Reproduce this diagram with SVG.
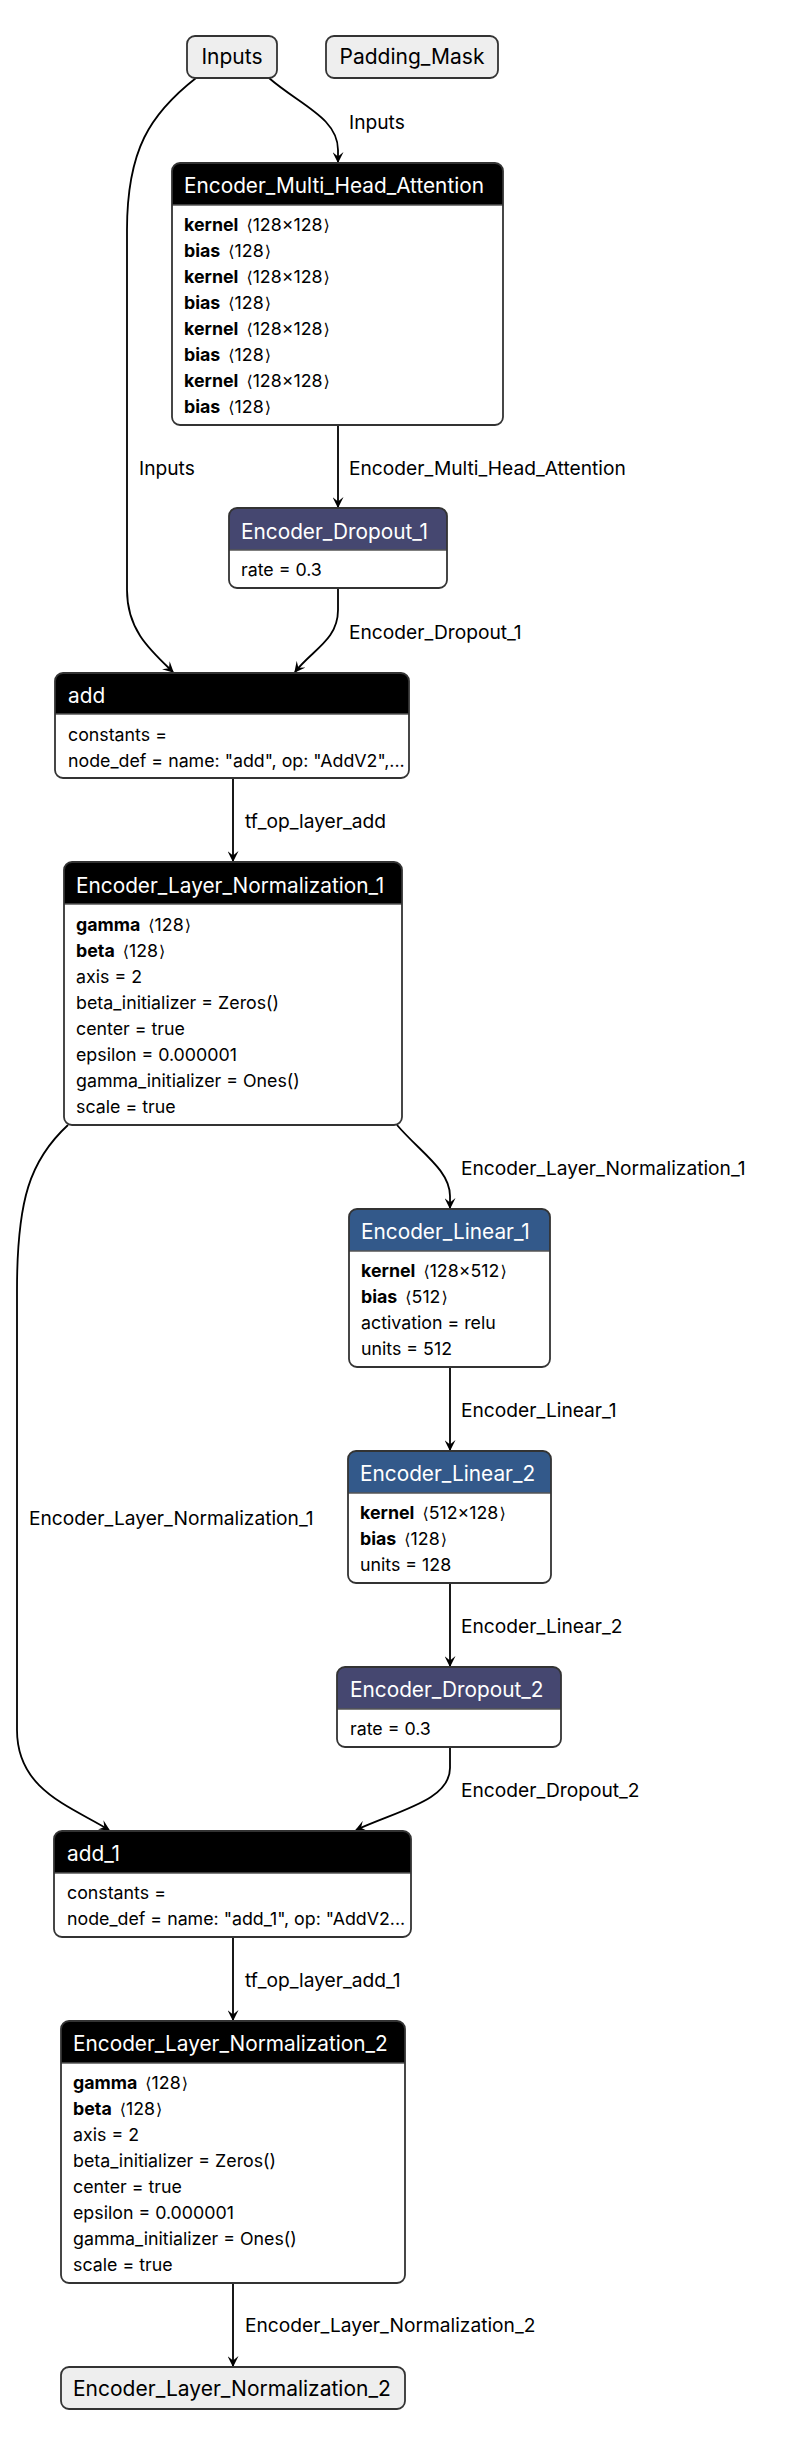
<svg xmlns="http://www.w3.org/2000/svg" width="800" height="2446" viewBox="0 0 800 2446">
<style>
text{font-family:Inter,"Liberation Sans","DejaVu Sans",sans-serif}
.body{fill:#fff;stroke:none}
.outline{fill:none;stroke:#333;stroke-width:1.8}
.sep{stroke:#555;stroke-width:1.5}
.hdr-black{fill:#000}
.hdr-drop{fill:#454770}
.hdr-layer{fill:#33598a}
.title{font-size:20.8px;fill:#fff}
.attr{font-size:17.8px;fill:#000}
.b{font-weight:bold}
.br{font-family:"DejaVu Sans",sans-serif;font-size:16px}
.io{fill:#eee;stroke:#333;stroke-width:1.8}
.iot{font-size:21px;fill:#000}
.edge{fill:none;stroke:#000;stroke-width:1.8}
.lbl{font-size:19.2px;fill:#000}
</style>
<defs>
<marker id="arrow" viewBox="0 0 10 10" refX="9" refY="5" markerWidth="11" markerHeight="11" markerUnits="userSpaceOnUse" orient="auto">
<path d="M0,0 L10,5 L0,10 L4,5 z" fill="#000"/>
</marker>
</defs>
<rect width="800" height="2446" fill="#fff"/>

<g id="connectors">
<path class="edge" d="M269,78 C300,105 338,118 338,150 L338,162" marker-end="url(#arrow)"/>
<path class="edge" d="M196,78 C150,114 127,150 127,230 L127,590 C127,630 150,650 173,672" marker-end="url(#arrow)"/>
<path class="edge" d="M338,425 L338,507" marker-end="url(#arrow)"/>
<path class="edge" d="M338,588 L338,610 C338,640 312,650 295,672" marker-end="url(#arrow)"/>
<path class="edge" d="M233,778 L233,861" marker-end="url(#arrow)"/>
<path class="edge" d="M397,1125 C420,1152 450,1170 450,1196 L450,1208" marker-end="url(#arrow)"/>
<path class="edge" d="M68,1125 C30,1160 17,1200 17,1290 L17,1730 C17,1790 70,1806 109,1830" marker-end="url(#arrow)"/>
<path class="edge" d="M450,1367 L450,1450" marker-end="url(#arrow)"/>
<path class="edge" d="M450,1583 L450,1666" marker-end="url(#arrow)"/>
<path class="edge" d="M450,1747 L450,1768 C450,1800 400,1810 356,1830" marker-end="url(#arrow)"/>
<path class="edge" d="M233,1937 L233,2020" marker-end="url(#arrow)"/>
<path class="edge" d="M233,2283 L233,2366" marker-end="url(#arrow)"/>
<text class="lbl" x="349" y="129">Inputs</text>
<text class="lbl" x="139" y="475">Inputs</text>
<text class="lbl" x="349" y="475">Encoder_Multi_Head_Attention</text>
<text class="lbl" x="349" y="639">Encoder_Dropout_1</text>
<text class="lbl" x="245" y="828">tf_op_layer_add</text>
<text class="lbl" x="461" y="1175">Encoder_Layer_Normalization_1</text>
<text class="lbl" x="29" y="1525">Encoder_Layer_Normalization_1</text>
<text class="lbl" x="461" y="1417">Encoder_Linear_1</text>
<text class="lbl" x="461" y="1633">Encoder_Linear_2</text>
<text class="lbl" x="461" y="1797">Encoder_Dropout_2</text>
<text class="lbl" x="245" y="1987">tf_op_layer_add_1</text>
<text class="lbl" x="245" y="2332">Encoder_Layer_Normalization_2</text>
</g>

<g id="node-inputs">
<rect class="io" x="187" y="36" width="90" height="42" rx="8"/>
<text class="iot" x="232" y="64" text-anchor="middle">Inputs</text>
</g>

<g id="node-padding-mask">
<rect class="io" x="326" y="36" width="172" height="42" rx="8"/>
<text class="iot" x="412" y="64" text-anchor="middle">Padding_Mask</text>
</g>

<g id="node-mha">
<rect class="body" x="172" y="163" width="331" height="262" rx="8"/>
<path class="hdr-black" d="M172,205 V171 A8,8 0 0 1 180,163 H495 A8,8 0 0 1 503,171 V205 Z"/>
<line class="sep" x1="172" y1="205" x2="503" y2="205"/>
<rect class="outline" x="172" y="163" width="331" height="262" rx="8"/>
<text class="title" x="184" y="193">Encoder_Multi_Head_Attention</text>
<text class="attr" x="184" y="231"><tspan class="b">kernel</tspan> <tspan class="br" dx="3">⟨</tspan>128×128<tspan class="br" dx="1">⟩</tspan></text>
<text class="attr" x="184" y="257"><tspan class="b">bias</tspan> <tspan class="br" dx="3">⟨</tspan>128<tspan class="br" dx="1">⟩</tspan></text>
<text class="attr" x="184" y="283"><tspan class="b">kernel</tspan> <tspan class="br" dx="3">⟨</tspan>128×128<tspan class="br" dx="1">⟩</tspan></text>
<text class="attr" x="184" y="309"><tspan class="b">bias</tspan> <tspan class="br" dx="3">⟨</tspan>128<tspan class="br" dx="1">⟩</tspan></text>
<text class="attr" x="184" y="335"><tspan class="b">kernel</tspan> <tspan class="br" dx="3">⟨</tspan>128×128<tspan class="br" dx="1">⟩</tspan></text>
<text class="attr" x="184" y="361"><tspan class="b">bias</tspan> <tspan class="br" dx="3">⟨</tspan>128<tspan class="br" dx="1">⟩</tspan></text>
<text class="attr" x="184" y="387"><tspan class="b">kernel</tspan> <tspan class="br" dx="3">⟨</tspan>128×128<tspan class="br" dx="1">⟩</tspan></text>
<text class="attr" x="184" y="413"><tspan class="b">bias</tspan> <tspan class="br" dx="3">⟨</tspan>128<tspan class="br" dx="1">⟩</tspan></text>
</g>

<g id="node-dropout1">
<rect class="body" x="229" y="508" width="218" height="80" rx="8"/>
<path class="hdr-drop" d="M229,550 V516 A8,8 0 0 1 237,508 H439 A8,8 0 0 1 447,516 V550 Z"/>
<line class="sep" x1="229" y1="550" x2="447" y2="550"/>
<rect class="outline" x="229" y="508" width="218" height="80" rx="8"/>
<text class="title" x="241" y="539">Encoder_Dropout_1</text>
<text class="attr" x="241" y="576">rate = 0.3</text>
</g>

<g id="node-add">
<rect class="body" x="55" y="673" width="354" height="105" rx="8"/>
<path class="hdr-black" d="M55,714 V681 A8,8 0 0 1 63,673 H401 A8,8 0 0 1 409,681 V714 Z"/>
<line class="sep" x1="55" y1="714" x2="409" y2="714"/>
<rect class="outline" x="55" y="673" width="354" height="105" rx="8"/>
<text class="title" x="68" y="703">add</text>
<text class="attr" x="68" y="741">constants =</text>
<text class="attr" x="68" y="767">node_def = name: "add", op: "AddV2",...</text>
</g>

<g id="node-ln1">
<rect class="body" x="64" y="862" width="338" height="263" rx="8"/>
<path class="hdr-black" d="M64,904 V870 A8,8 0 0 1 72,862 H394 A8,8 0 0 1 402,870 V904 Z"/>
<line class="sep" x1="64" y1="904" x2="402" y2="904"/>
<rect class="outline" x="64" y="862" width="338" height="263" rx="8"/>
<text class="title" x="76" y="893">Encoder_Layer_Normalization_1</text>
<text class="attr" x="76" y="931"><tspan class="b">gamma</tspan> <tspan class="br" dx="3">⟨</tspan>128<tspan class="br" dx="1">⟩</tspan></text>
<text class="attr" x="76" y="957"><tspan class="b">beta</tspan> <tspan class="br" dx="3">⟨</tspan>128<tspan class="br" dx="1">⟩</tspan></text>
<text class="attr" x="76" y="983">axis = 2</text>
<text class="attr" x="76" y="1009">beta_initializer = Zeros()</text>
<text class="attr" x="76" y="1035">center = true</text>
<text class="attr" x="76" y="1061">epsilon = 0.000001</text>
<text class="attr" x="76" y="1087">gamma_initializer = Ones()</text>
<text class="attr" x="76" y="1113">scale = true</text>
</g>

<g id="node-linear1">
<rect class="body" x="349" y="1209" width="201" height="158" rx="8"/>
<path class="hdr-layer" d="M349,1251 V1217 A8,8 0 0 1 357,1209 H542 A8,8 0 0 1 550,1217 V1251 Z"/>
<line class="sep" x1="349" y1="1251" x2="550" y2="1251"/>
<rect class="outline" x="349" y="1209" width="201" height="158" rx="8"/>
<text class="title" x="361" y="1239">Encoder_Linear_1</text>
<text class="attr" x="361" y="1277"><tspan class="b">kernel</tspan> <tspan class="br" dx="3">⟨</tspan>128×512<tspan class="br" dx="1">⟩</tspan></text>
<text class="attr" x="361" y="1303"><tspan class="b">bias</tspan> <tspan class="br" dx="3">⟨</tspan>512<tspan class="br" dx="1">⟩</tspan></text>
<text class="attr" x="361" y="1329">activation = relu</text>
<text class="attr" x="361" y="1355">units = 512</text>
</g>

<g id="node-linear2">
<rect class="body" x="348" y="1451" width="203" height="132" rx="8"/>
<path class="hdr-layer" d="M348,1493 V1459 A8,8 0 0 1 356,1451 H543 A8,8 0 0 1 551,1459 V1493 Z"/>
<line class="sep" x1="348" y1="1493" x2="551" y2="1493"/>
<rect class="outline" x="348" y="1451" width="203" height="132" rx="8"/>
<text class="title" x="360" y="1481">Encoder_Linear_2</text>
<text class="attr" x="360" y="1519"><tspan class="b">kernel</tspan> <tspan class="br" dx="3">⟨</tspan>512×128<tspan class="br" dx="1">⟩</tspan></text>
<text class="attr" x="360" y="1545"><tspan class="b">bias</tspan> <tspan class="br" dx="3">⟨</tspan>128<tspan class="br" dx="1">⟩</tspan></text>
<text class="attr" x="360" y="1571">units = 128</text>
</g>

<g id="node-dropout2">
<rect class="body" x="337" y="1667" width="224" height="80" rx="8"/>
<path class="hdr-drop" d="M337,1709 V1675 A8,8 0 0 1 345,1667 H553 A8,8 0 0 1 561,1675 V1709 Z"/>
<line class="sep" x1="337" y1="1709" x2="561" y2="1709"/>
<rect class="outline" x="337" y="1667" width="224" height="80" rx="8"/>
<text class="title" x="350" y="1697">Encoder_Dropout_2</text>
<text class="attr" x="350" y="1735">rate = 0.3</text>
</g>

<g id="node-add1">
<rect class="body" x="54" y="1831" width="357" height="106" rx="8"/>
<path class="hdr-black" d="M54,1873 V1839 A8,8 0 0 1 62,1831 H403 A8,8 0 0 1 411,1839 V1873 Z"/>
<line class="sep" x1="54" y1="1873" x2="411" y2="1873"/>
<rect class="outline" x="54" y="1831" width="357" height="106" rx="8"/>
<text class="title" x="67" y="1861">add_1</text>
<text class="attr" x="67" y="1899">constants =</text>
<text class="attr" x="67" y="1925">node_def = name: "add_1", op: "AddV2...</text>
</g>

<g id="node-ln2">
<rect class="body" x="61" y="2021" width="344" height="262" rx="8"/>
<path class="hdr-black" d="M61,2063 V2029 A8,8 0 0 1 69,2021 H397 A8,8 0 0 1 405,2029 V2063 Z"/>
<line class="sep" x1="61" y1="2063" x2="405" y2="2063"/>
<rect class="outline" x="61" y="2021" width="344" height="262" rx="8"/>
<text class="title" x="73" y="2051">Encoder_Layer_Normalization_2</text>
<text class="attr" x="73" y="2089"><tspan class="b">gamma</tspan> <tspan class="br" dx="3">⟨</tspan>128<tspan class="br" dx="1">⟩</tspan></text>
<text class="attr" x="73" y="2115"><tspan class="b">beta</tspan> <tspan class="br" dx="3">⟨</tspan>128<tspan class="br" dx="1">⟩</tspan></text>
<text class="attr" x="73" y="2141">axis = 2</text>
<text class="attr" x="73" y="2167">beta_initializer = Zeros()</text>
<text class="attr" x="73" y="2193">center = true</text>
<text class="attr" x="73" y="2219">epsilon = 0.000001</text>
<text class="attr" x="73" y="2245">gamma_initializer = Ones()</text>
<text class="attr" x="73" y="2271">scale = true</text>
</g>

<g id="node-output">
<rect class="io" x="61" y="2367" width="344" height="42" rx="8"/>
<text class="iot" x="73" y="2396">Encoder_Layer_Normalization_2</text>
</g>
</svg>
